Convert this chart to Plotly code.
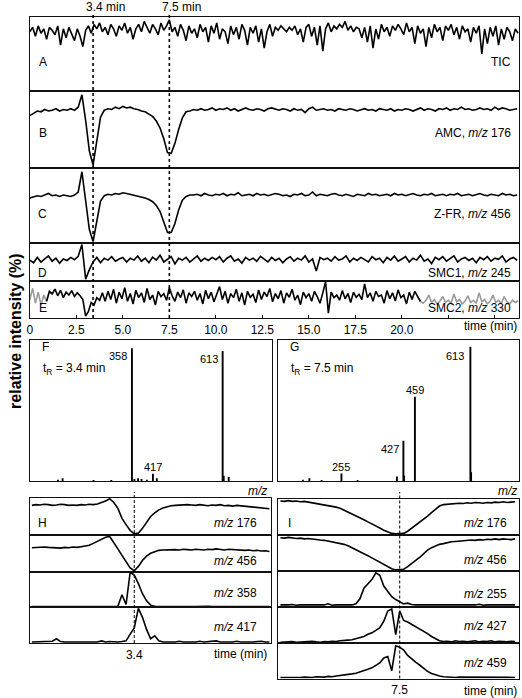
import numpy as np
import plotly.graph_objects as go

# ---------------- data ----------------
# Top chromatograms (time in min)
STEP_AE = 0.15
STEP_BCD = 0.2
tic_A = [80, 86, 74, 88, 78, 84, 70, 86, 82, 76,
         88, 62, 84, 72, 86, 78, 68, 84, 74, 60,
         82, 88, 78, 90, 84, 92, 80, 86, 76, 90,
         84, 74, 88, 82, 92, 78, 86, 70, 84, 90,
         80, 94, 86, 78, 90, 84, 76, 92, 82, 88,
         96, 80, 86, 74, 90, 82, 68, 88, 78, 84,
         72, 90, 80, 86, 66, 88, 78, 92, 70, 84,
         80, 64, 88, 76, 86, 70, 90, 82, 62, 86,
         78, 88, 66, 84, 58, 80, 90, 74, 86, 82,
         88, 84, 80, 86, 82, 88, 76, 84, 66, 86,
         90, 74, 86, 62, 88, 54, 84, 92, 80, 88,
         84, 90, 86, 94, 82, 88, 80, 86, 84, 72,
         86, 66, 88, 58, 84, 70, 90, 80, 86, 74,
         88, 82, 90, 84, 76, 92, 80, 86, 64, 88,
         78, 84, 60, 86, 72, 90, 80, 86, 68, 88,
         82, 90, 76, 86, 70, 88, 80, 84, 66, 86,
         78, 88, 50, 84, 64, 86, 74, 88, 62, 84,
         70, 86, 80, 68, 84, 78]

amc_B = [68, 71, 74, 73, 76, 74, 75, 77, 74, 76,
         75, 77, 75, 79, 95, 62, 22, 4, 38, 66,
         75, 77, 76, 79, 77, 80, 78, 79, 77, 76,
         74, 73, 70, 67, 61, 52, 38, 20, 19, 32,
         50, 65, 73, 74, 76, 75, 77, 75, 76, 78,
         75, 77, 76, 78, 75, 77, 74, 76, 78, 76,
         75, 77, 76, 74, 77, 78, 76, 75, 77, 76,
         74, 77, 75, 76, 72, 77, 79, 75, 76, 77,
         75, 76, 74, 77, 76, 75, 77, 76, 74, 76,
         77, 75, 76, 74, 77, 76, 75, 77, 74, 76,
         75, 77, 76, 74, 76, 78, 75, 77, 76, 74,
         77, 76, 78, 75, 77, 76, 79, 76, 77, 75,
         76, 78, 76, 77, 75, 79, 76, 78, 77, 75,
         76, 77]

zfr_C = [60, 62, 63, 62, 64, 66, 63, 64, 62, 64,
         63, 62, 64, 68, 95, 55, 18, 2, 32, 56,
         63, 65, 64, 66, 65, 67, 66, 65, 64, 63,
         62, 60, 58, 55, 50, 42, 28, 14, 14, 26,
         44, 57, 62, 64,
         64, 65, 63, 66, 64, 63, 65, 64, 66, 63,
         65, 64, 67, 63, 64, 65, 63, 66, 64, 65,
         63, 64, 66, 65, 63, 64, 62, 65, 64, 66,
         63, 64, 68, 63, 65, 64, 63, 65, 66, 64,
         63, 65, 64, 62, 65, 64, 63, 66, 64, 65,
         63, 64, 65, 63, 66, 64, 65, 63, 64, 66,
         64, 63, 65, 64, 66, 63, 64, 65, 63, 65,
         64, 66, 63, 64, 65, 63, 64, 66, 64, 63,
         65, 64, 63, 66, 64, 65, 63, 64]

smc1_D = [55, 48, 62, 50, 58, 66, 52, 60, 47, 58,
          54, 62, 56, 65, 96, 5, 30, 50, 62, 48,
          60, 55, 64, 52, 58, 62, 50, 60, 55, 66,
          52, 60, 48, 63, 55, 68, 50, 58, 64, 45,
          60, 55, 62, 50, 58, 66, 52, 60, 54, 62,
          56, 64, 50, 60, 66, 52, 58, 47, 62, 55,
          60, 52, 65, 57, 50, 62, 54, 60, 48, 58,
          64, 52, 60, 55, 66, 50, 58, 26, 62, 56,
          60, 52, 64, 55, 58, 66, 50, 60, 54, 62,
          57, 50, 64, 56, 60, 48, 62, 55, 66, 52,
          58, 64, 50, 60, 55, 68, 52, 58, 46, 62,
          56, 64, 52, 60, 66, 50, 58, 62, 54, 60,
          48, 62, 56, 64, 52, 60, 57, 66, 50, 58,
          62, 54]

smc2_E = [50, 80, 40, 70, 35, 62, 45, 72, 65, 78,
          60, 75, 55, 70, 62, 74, 58, 68, 60, 50,
          5, 18, 42, 35, 55, 48, 68, 45, 72, 50,
          78, 40, 70, 52, 82, 45, 66, 38, 75, 55,
          68, 42, 80, 50, 62, 35, 72, 58, 66, 48,
          82, 60, 45, 70, 55, 76, 40, 68, 58, 72,
          48, 66, 38, 75, 52, 70, 44, 62, 85, 50,
          72, 40, 66, 55, 78, 45, 68, 35, 72, 56,
          64, 42, 76, 50, 70, 58, 80, 44, 66, 52,
          74, 40, 68, 56, 78, 48, 62, 36, 70, 55,
          66, 45, 72, 58, 40, 68, 98, 13, 70, 55,
          62, 48, 74, 52, 66, 42, 70, 56, 64, 50,
          92, 55, 68, 45, 72, 58, 62, 40, 74, 52,
          68, 46, 76, 55, 62, 38, 70, 50, 72, 58,
          45, 40, 48, 62, 42, 50, 38, 46, 58, 42,
          48, 40, 65, 44, 50, 38, 46, 60, 42, 48,
          40, 68, 44, 50, 38, 46, 62, 42, 48, 40,
          58, 44, 38, 48, 42, 46]

time_ticks = [0, 2.5, 5.0, 7.5, 10.0, 12.5, 15.0, 17.5, 20.0]
time_ticktext = ["0", "2.5", "5.0", "7.5", "10.0", "12.5", "15.0", "17.5", "20.0"]
time_minor_ticks = [22.5, 25.0]
marked_times = [3.4, 7.5]

# Mass spectra
F_mz = [150, 163, 250, 300, 358, 365, 375, 385, 400, 417, 428, 613, 616, 630]
F_int = [1, 2, 0.8, 0.8, 100, 1.5, 2, 1.5, 1, 5.5, 2, 98, 4, 3]
F_labels = {358: "358", 613: "613", 417: "417"}
G_mz = [148, 166, 200, 255, 300, 409, 427, 429, 459, 613, 615]
G_int = [1, 2, 0.8, 5.5, 0.8, 3.3, 29.9, 4, 62.7, 100, 6.5]
G_labels = {613: "613", 459: "459", 427: "427", 255: "255"}

# Extracted ion chromatograms, panel H (3.4 min)
H_t0, H_step = 0.9, 0.1
H_176 = [80, 82, 81, 83, 82, 80, 81, 83, 82, 80, 81, 80, 82, 81, 83, 82, 84, 87, 92, 98,
         88, 72, 45, 28, 12, 3, 5, 18, 35, 50, 60, 68, 73, 77, 79, 80, 81, 80, 82, 81,
         80, 82, 81, 79, 81, 80, 82, 79, 80, 78, 80, 79, 77, 78, 76, 74, 73, 72, 71]
H_456 = [65, 66, 65, 67, 66, 65, 66, 64, 66, 65, 67, 66, 68, 70, 72, 77, 82, 88, 94, 96,
         80, 62, 44, 26, 10, 2, 14, 30, 42, 50, 55, 58, 59, 60, 59, 60, 59, 61, 60, 59,
         61, 60, 59, 61, 60, 62, 60, 59, 61, 60, 59, 60, 58, 59, 57, 58, 56, 57, 55]
H_358 = [2, 3, 2, 2, 3, 2, 2, 3, 2, 2, 3, 2, 2, 2, 3, 2, 3, 2, 2, 3, 2, 3,
         35, 8, 98, 90, 66, 38, 18, 6, 3, 2,
         3, 2, 2, 3, 2, 2, 3, 2, 2, 3, 2, 3, 2, 2, 3, 2, 2, 3, 2, 2, 3, 2, 3, 2, 2, 3, 2]
H_417 = [3, 3, 4, 3, 3, 5, 12, 4, 3, 3, 4, 3, 3, 5, 3, 4, 3, 6, 3, 4,
         3, 3, 4, 6, 25, 42, 97, 72, 38, 12, 20, 6, 3, 4, 3, 3, 5, 3, 4, 3,
         3, 5, 3, 4, 3, 6, 3, 4, 3, 3, 5, 3, 4, 3, 3, 4, 5, 3, 3]
H_rows = [("176", H_176), ("456", H_456), ("358", H_358), ("417", H_417)]

# Extracted ion chromatograms, panel I (7.5 min)
I_t0, I_step = 4.5, 0.1
I_176 = [93, 92, 94, 92, 93, 91, 92, 90, 89, 87, 85, 84, 82, 79, 76, 73, 68, 63, 58, 52,
         47, 41, 35, 30, 24, 18, 12, 7, 3, 2, 2, 3, 9, 17, 25, 33, 42, 51, 61, 71,
         79, 83, 84, 86, 85, 87, 86, 88, 87, 89, 88, 87, 89, 88, 90, 89, 91, 89, 90, 91]
I_456 = [91, 90, 92, 90, 89, 90, 88, 89, 87, 86, 85, 84, 82, 81, 79, 77, 73, 69, 64, 59,
         53, 48, 42, 36, 30, 23, 17, 11, 6, 3, 3, 5, 12, 20, 28, 37, 47, 57, 64, 69,
         73, 75, 78, 80, 81, 82, 84, 83, 85, 84, 86, 85, 87, 86, 88, 86, 88, 87, 86, 88]
I_255 = [5, 4, 5, 6, 4, 5, 5, 4, 6, 5, 4, 5, 8, 4, 5, 5, 4, 6, 5,
         8, 22, 52, 65, 76, 95, 88, 58, 42, 28, 20, 14, 8, 10, 6, 5,
         5, 4, 6, 5, 4, 5, 6, 4, 5, 5, 4, 6, 5, 4, 5, 7, 4, 5, 5, 4, 6, 5, 4, 5, 5]
I_427 = [2, 3, 2, 4, 2, 3, 2, 3, 5, 3, 2, 4, 3, 5, 4, 6,
         6, 8, 9, 12, 15, 18, 24, 28, 35, 42, 60, 88, 94, 23, 88, 62, 58, 52, 44, 40,
         32, 26, 18, 12, 6,
         4, 5, 3, 6, 4, 5, 3, 4, 6, 3, 5, 4, 6, 3, 5, 4, 3, 5, 4]
I_459 = [3, 2, 3, 3, 2, 3, 4, 3, 3, 5, 4, 4, 6, 5, 7, 8,
         9, 10, 13, 15, 18, 22, 26, 30, 36, 44, 58, 62, 22, 92, 88, 80, 65, 55, 46, 38,
         28, 20, 14, 10, 7,
         5, 4, 5, 3, 4, 4, 3, 5, 4, 3, 4, 3, 5, 4, 3, 4, 3, 4, 3]
I_rows = [("176", I_176), ("456", I_456), ("255", I_255), ("427", I_427), ("459", I_459)]

# ---------------- layout helpers ----------------
W, HT = 522, 698
FONT = "Liberation Sans, Arial, sans-serif"
LC = "#111111"
LW = 1.6


def xd(a, b):
    return [a / W, b / W]


def yd(top, bottom):
    return [1 - bottom / HT, 1 - top / HT]


def py(p):
    return 1 - p / HT


def px(p):
    return p / W


fig = go.Figure()
layout = {}


def add_panel(i, xpx, ypx, xr, yr, **xkw):
    s = "" if i == 1 else str(i)
    xa = dict(domain=xd(*xpx), range=xr, anchor="y" + s, showline=True, mirror=True,
              linecolor=LC, linewidth=1.4, showgrid=False, zeroline=False,
              showticklabels=False, ticks="", fixedrange=True)
    xa.update(xkw)
    ya = dict(domain=yd(*ypx), range=yr, anchor="x" + s, showline=True, mirror=True,
              linecolor=LC, linewidth=1.4, showgrid=False, zeroline=False,
              showticklabels=False, ticks="", fixedrange=True)
    layout["xaxis" + s] = xa
    layout["yaxis" + s] = ya
    return "x" + s, "y" + s


def line(xs, ys, xa, ya, color="black", width=LW):
    fig.add_trace(go.Scatter(x=xs, y=ys, mode="lines", xaxis=xa, yaxis=ya,
                             line=dict(color=color, width=width), hoverinfo="skip"))


TOP_X = [27, 519]
TOP_R = [0, 26.3]
top_rows = [(17, 91), (91, 168), (168, 243), (243, 281), (281, 318)]
tAE = np.arange(len(tic_A)) * STEP_AE
tB = np.arange(len(amc_B)) * STEP_BCD
tC = np.arange(len(zfr_C)) * STEP_BCD
tD = np.arange(len(smc1_D)) * STEP_BCD
tE = np.arange(len(smc2_E)) * STEP_AE

axA = add_panel(1, TOP_X, top_rows[0], TOP_R, [0, 100])
axB = add_panel(2, TOP_X, top_rows[1], TOP_R, [0, 100])
axC = add_panel(3, TOP_X, top_rows[2], TOP_R, [0, 100])
axD = add_panel(4, TOP_X, top_rows[3], TOP_R, [0, 100])
axE = add_panel(5, TOP_X, top_rows[4], TOP_R, [0, 100],
                showticklabels=True, tickvals=time_ticks, ticktext=time_ticktext,
                ticks="inside", ticklen=3, tickcolor=LC,
                minor=dict(tickvals=time_minor_ticks, ticks="inside", ticklen=3, tickcolor=LC),
                tickfont=dict(family=FONT, size=12, color="black"))

line(tAE, tic_A, *axA)
line(tB, amc_B, *axB)
line(tC, zfr_C, *axC)
line(tD, smc1_D, *axD)
E = np.array(smc2_E, dtype=float)
line(tE[:9], E[:9], *axE, color="#9a9a9a")
line(tE[139:], E[139:], *axE, color="#9a9a9a")
line(tE[6:141], E[6:141], *axE)

# spectra
axF = add_panel(6, [27, 271], [340, 481], [71, 753], [0, 106.3])
axG = add_panel(7, [277, 519], [340, 481], [80, 748], [0, 105])


def sticks(mz, inten, ax):
    xs, ys = [], []
    for m, v in zip(mz, inten):
        xs += [m, m, None]
        ys += [0, v, None]
    line(xs, ys, *ax, width=1.9)


sticks(F_mz, F_int, axF)
sticks(G_mz, G_int, axG)

# EIC panels H and I
H_rows_px = [(498, 535), (535, 571.5), (571.5, 607.3), (607.3, 643)]
I_rows_px = [(498.5, 534.5), (534.5, 571), (571, 606.7), (606.7, 643), (643, 678.5)]
H_range = [0.85, 6.75]
I_range = [4.45, 10.5]
for k, ((name, vals), rp) in enumerate(zip(H_rows, H_rows_px)):
    extra = {}
    if k == len(H_rows) - 1:
        extra = dict(showticklabels=True, tickvals=[marked_times[0]], ticktext=["3.4"],
                     tickfont=dict(family=FONT, size=12, color="black"))
    ax = add_panel(8 + k, [27, 270], rp, H_range, [0, 100], **extra)
    t = H_t0 + np.arange(len(vals)) * H_step
    line(t, vals, *ax)
for k, ((name, vals), rp) in enumerate(zip(I_rows, I_rows_px)):
    extra = {}
    if k == len(I_rows) - 1:
        extra = dict(showticklabels=True, tickvals=[marked_times[1]], ticktext=["7.5"],
                     tickfont=dict(family=FONT, size=12, color="black"))
    ax = add_panel(12 + k, [277, 519], rp, I_range, [0, 100], **extra)
    t = I_t0 + np.arange(len(vals)) * I_step
    line(t, vals, *ax)

# ---------------- shapes ----------------
shapes = []
for tm in marked_times:
    shapes.append(dict(type="line", xref="x", yref="paper", x0=tm, x1=tm,
                       y0=py(318), y1=py(12), line=dict(color="black", width=1.6, dash="dot")))
shapes.append(dict(type="line", xref="x8", yref="paper", x0=marked_times[0], x1=marked_times[0],
                   y0=py(643), y1=py(492), line=dict(color="black", width=1, dash="3px,2px")))
shapes.append(dict(type="line", xref="x12", yref="paper", x0=marked_times[1], x1=marked_times[1],
                   y0=py(678.5), y1=py(492), line=dict(color="black", width=1, dash="3px,2px")))

# ---------------- annotations ----------------
ann = []


def text(t, xpix, ypix, anchor="center", size=12, **kw):
    d = dict(text=t, xref="paper", yref="paper", x=px(xpix), y=py(ypix), xanchor=anchor,
             yanchor="middle", showarrow=False, font=dict(family=FONT, size=size, color="black"))
    d.update(kw)
    ann.append(d)


for tm in marked_times:
    ann.append(dict(text=f"{tm} min", xref="x", yref="paper", x=tm, y=py(7), xanchor="left",
                    yanchor="middle", xshift=-9, showarrow=False,
                    font=dict(family=FONT, size=12, color="black")))

top_labels = [("A", "TIC", 62), ("B", "AMC, <i>m/z</i> 176", 133),
              ("C", "Z-FR, <i>m/z</i> 456", 214), ("D", "SMC1, <i>m/z</i> 245", 273),
              ("E", "SMC2, <i>m/z</i> 330", 308)]
for letter, lab, yy in top_labels:
    text(letter, 40, yy)
    text(lab, 513, yy, anchor="right")
text("time (min)", 519, 326, anchor="right")

text("<b>relative intensity (%)</b>", 12, 331, size=16, textangle=-90)

text("F", 43, 347)
text("t<sub>R</sub> = 3.4 min", 38, 369, anchor="left")
text("G", 293, 347)
text("t<sub>R</sub> = 7.5 min", 288, 369, anchor="left")
text("<i>m/z</i>", 268, 491, anchor="right")
text("<i>m/z</i>", 519, 491, anchor="right")

peak_pos = {  # (label y pixel, anchor, xshift)
    ("F", 358): (356, "right", -3), ("F", 613): (359, "right", -3), ("F", 417): (467, "center", 0),
    ("G", 613): (356, "right", -4), ("G", 459): (390, "center", 0), ("G", 427): (449, "right", -2),
    ("G", 255): (467, "center", 0),
}
for panel, labels, ax in (("F", F_labels, axF), ("G", G_labels, axG)):
    for mz, lab in labels.items():
        yy, anc, sh = peak_pos[(panel, mz)]
        ann.append(dict(text=lab, xref=ax[0], yref="paper", x=mz, y=py(yy), xanchor=anc,
                        yanchor="middle", xshift=sh, showarrow=False,
                        font=dict(family=FONT, size=11, color="black")))

H_lab_y = [523, 561, 593, 627]
text("H", 40, 523)
for (name, _), yy in zip(H_rows, H_lab_y):
    text(f"<i>m/z</i> {name}", 257, yy, anchor="right")
text("time (min)", 268, 654, anchor="right")

I_lab_y = [523, 560, 594, 626, 663]
text("I", 288, 523)
for (name, _), yy in zip(I_rows, I_lab_y):
    text(f"<i>m/z</i> {name}", 509, yy, anchor="right")
text("time (min)", 519, 691, anchor="right")

fig.update_layout(**layout)
fig.update_layout(width=W, height=HT, margin=dict(l=0, r=0, t=0, b=0),
                  paper_bgcolor="white", plot_bgcolor="white", showlegend=False,
                  shapes=shapes, annotations=ann, font=dict(family=FONT, size=12, color="black"))
fig.write_html("out.html", config={"displayModeBar": False},
               post_script="document.body.style.margin='0px';document.body.style.overflow='hidden';")
